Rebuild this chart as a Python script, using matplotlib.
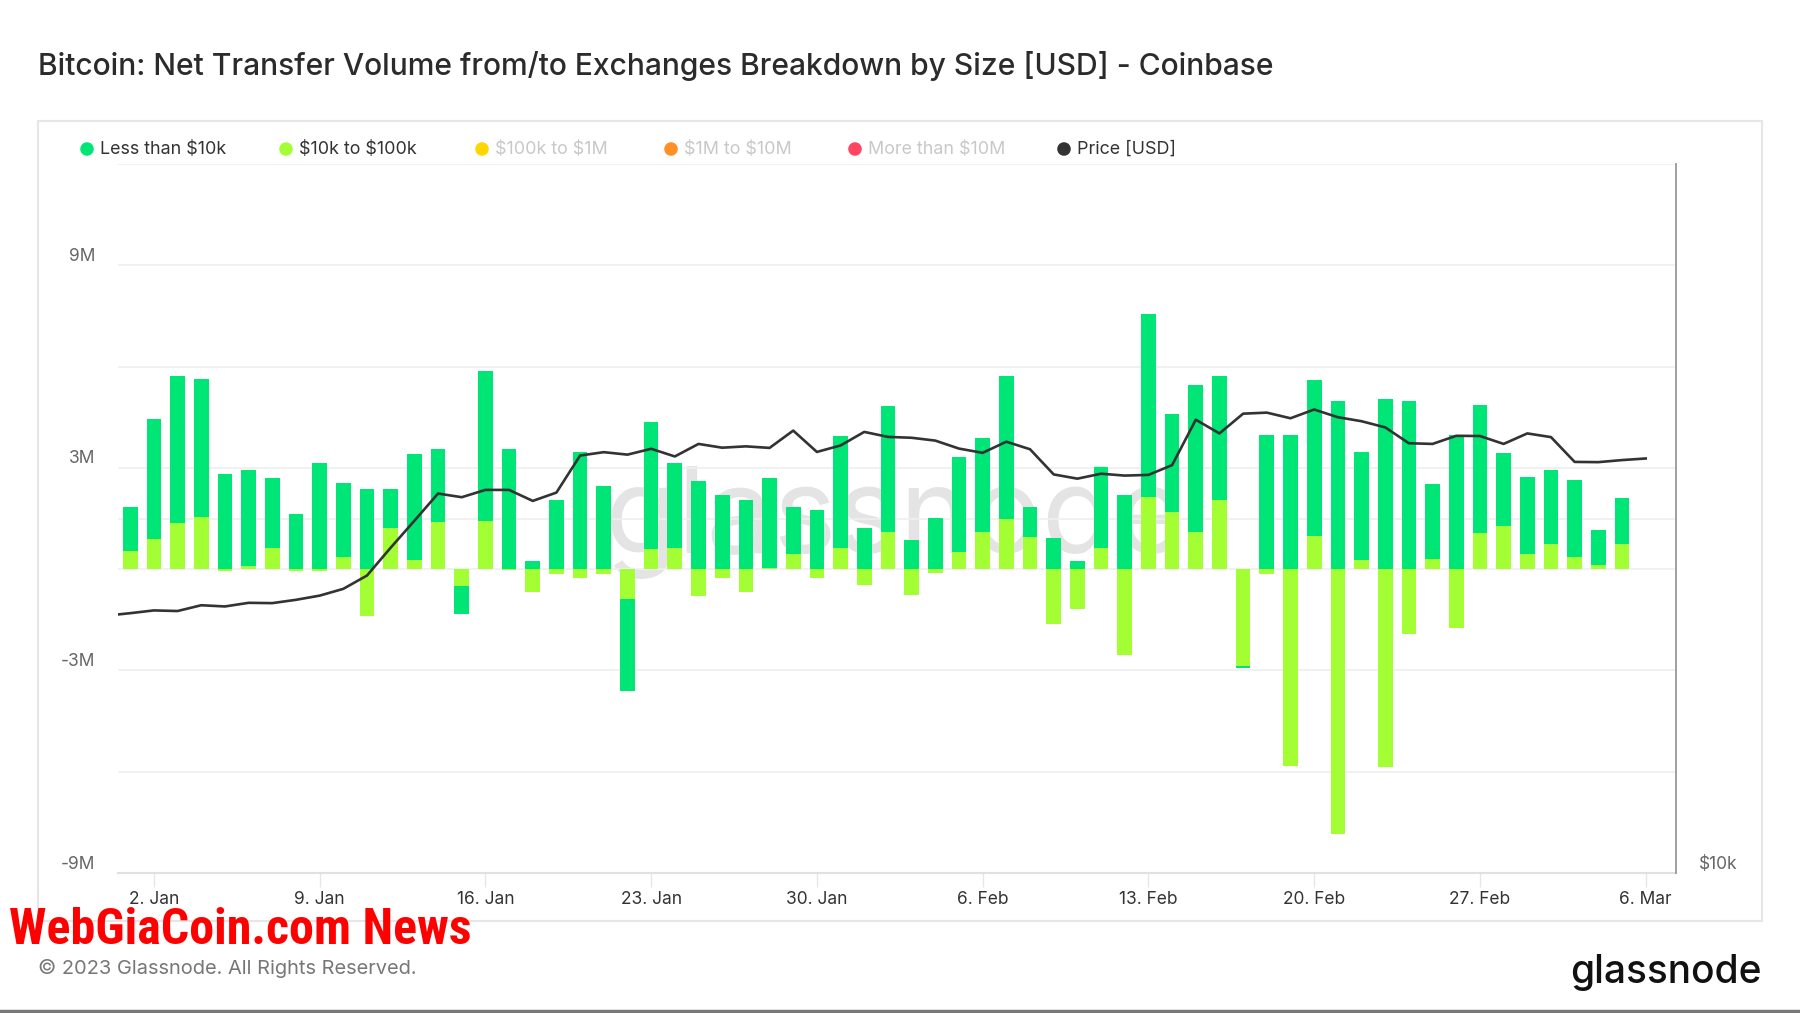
import matplotlib
matplotlib.use("Agg")
import matplotlib.pyplot as plt
import matplotlib.transforms as mtransforms
from matplotlib.ticker import NullLocator
from matplotlib.patches import Rectangle
from matplotlib import font_manager
import numpy as np
import pandas as pd

plt.rcParams['font.family'] = ['Inter', 'DejaVu Sans']
plt.rcParams['text.parse_math'] = False

# ---------------- datos ----------------
bar_dates = pd.date_range('2023-01-01', '2023-03-05', freq='D')

# Less than $10k  [M USD]
less_10k = [1.29, 3.58, 4.35, 4.09, 2.81, 2.87, 2.05, 1.62, 3.13, 2.21,
            2.38, 1.15, 3.14, 2.16, -0.83, 4.44, 3.57, 0.25, 2.06, 3.47,
            2.46, -2.74, 3.76, 2.49, 2.60, 2.20, 2.06, 2.67, 1.39, 1.75,
            3.29,
            1.21, 3.72, 0.87, 1.52, 2.79, 2.78, 4.22, 0.89, 0.91, 0.25,
            2.40, 2.20, 5.40, 2.92, 4.34, 3.65, -0.06, 3.97, 3.97, 4.61,
            4.98, 3.22, 5.03, 4.98, 2.22, 3.97, 3.80, 2.17,
            2.27, 2.20, 2.28, 1.04, 1.36]

# $10k to $100k  [M USD]
k10_100k = [0.55, 0.88, 1.36, 1.53, -0.06, 0.08, 0.64, -0.05, -0.05, 0.35,
            -1.39, 1.23, 0.26, 1.41, -0.51, 1.44, -0.04, -0.68, -0.15, -0.25,
            -0.15, -0.87, 0.61, 0.64, -0.81, -0.25, -0.68, 0.02, 0.46, -0.25,
            0.64,
            -0.46, 1.10, -0.78, -0.10, 0.52, 1.10, 1.49, 0.96, -1.62, -1.17,
            0.64, -2.55, 2.15, 1.68, 1.10, 2.06, -2.88, -0.15, -5.82, 0.99,
            -7.85, 0.26, -5.85, -1.91, 0.29, -1.74, 1.06, 1.27,
            0.45, 0.75, 0.35, 0.12, 0.75]

price_dates = pd.date_range('2022-12-31', '2023-03-06', freq='D')
price = [16540,
         16620, 16710, 16690, 16880, 16840, 16960, 16950, 17060, 17200, 17430,
         17890, 18890, 19910, 21000, 20850, 21150, 21150, 20700, 21040, 22620,
         22770, 22660, 22920, 22580, 23140, 22970, 23030, 22960, 23750, 22780,
         23070,
         23690, 23460, 23420, 23290, 22930, 22740, 23240, 22900, 21800, 21620,
         21830, 21750, 21780, 22200, 24260, 23620, 24550, 24600, 24330, 24750,
         24380, 24190, 23900, 23170, 23140, 23510, 23500, 23140,
         23620, 23450, 22340, 22330, 22420, 22490]

tick_dates = pd.date_range('2023-01-02', '2023-03-06', freq='7D')
tick_labels = ['2. Jan', '9. Jan', '16. Jan', '23. Jan', '30. Jan',
               '6. Feb', '13. Feb', '20. Feb', '27. Feb', '6. Mar']

y_labels = [9, 3, -3, -9]

legend_names = ['Less than $10k', '$10k to $100k', '$100k to $1M',
                '$1M to $10M', 'More than $10M', 'Price [USD]']
legend_colors = ['#00E676', '#A3FF33', '#FFD600', '#FF8F27', '#FF4560', '#333333']
legend_active = [True, True, False, False, False, True]

# ---------------- figura ----------------
W, H = 1800, 1013
fig = plt.figure(figsize=(W / 100, H / 100), dpi=100)
fig.patch.set_facecolor('white')

# capa de fondo en pixeles
bg = fig.add_axes([0, 0, 1, 1], zorder=0)
bg.set_xlim(0, W)
bg.set_ylim(H, 0)
bg.axis('off')

bg.add_patch(Rectangle((38, 121), 1762 - 38, 921 - 121, facecolor='white',
                       edgecolor='#e6e6e6', lw=1.5))
bg.plot([0, W], [1011, 1011], color='#777777', lw=2.5)

titulo = bg.text(38, 66, 'Bitcoin: Net Transfer Volume from/to Exchanges Breakdown by Size [USD] - Coinbase',
                 fontsize=21.5, color='#2b2b2b', ha='left', va='center', fontweight='medium')

# leyenda
leg_dot_x = [87, 286, 482, 671, 855, 1064]
for xd, name, col, act in zip(leg_dot_x, legend_names, legend_colors, legend_active):
    bg.scatter([xd], [149], s=95, color=col, edgecolors='none')
    bg.text(xd + 13, 149, name, fontsize=12.9, ha='left', va='center',
            color='#333333' if act else '#c8c8c8')

copy_txt = bg.text(38, 968, '\u00a9 2023 Glassnode. All Rights Reserved.', fontsize=14.3,
                   color='#777777', ha='left', va='center')
bg.text(1762, 983, 'glassnode', fontsize=28, color='#111111', ha='right',
        va='baseline', fontweight='medium')

# fuente condensada si existe
cond = None
for fam in ['Roboto Condensed', 'Liberation Sans Narrow', 'Open Sans Condensed', 'Roboto']:
    try:
        font_manager.findfont(font_manager.FontProperties(family=fam), fallback_to_default=False)
        cond = fam
        break
    except Exception:
        pass
if cond is None:
    cond = 'DejaVu Sans'
marca = bg.text(9, 944, 'WebGiaCoin.com News', fontsize=33, color='#ff0000', ha='left',
                va='baseline', fontweight='heavy', family=cond)

# ---------------- eje principal ----------------
left, right, top, bottom = 118, 1676, 164, 873
ax = fig.add_axes([left / W, 1 - bottom / H, (right - left) / W, (bottom - top) / H], zorder=1)
ax.set_facecolor('none')

x0 = pd.Timestamp('2023-01-01')
ax.set_xlim(x0 - pd.Timedelta(days=0.515), x0 + pd.Timedelta(days=65.28))
ax.set_ylim(-9, 12)

g = np.array(less_10k)
l = np.array(k10_100k)
g_bottom = np.where(g * l > 0, l, 0)

ax.bar(bar_dates, l, width=0.62, color='#A3FF33', edgecolor='none', zorder=2)
ax.bar(bar_dates, g, width=0.62, bottom=g_bottom, color='#00E676', edgecolor='none', zorder=2)

ax.set_yticks(np.arange(-9, 13, 3))
ax.yaxis.grid(True, color='#efefef', lw=1.2)
ax.set_axisbelow(True)

ax.set_xticks(tick_dates)
ax.set_xticklabels(tick_labels)
ax.tick_params(axis='x', length=10, width=1, color='#e6e6e6', labelsize=12.5,
               labelcolor='#333333', pad=3)

for s in ['left', 'top', 'right']:
    ax.spines[s].set_visible(False)
ax.spines['bottom'].set_color('#e0e0e0')
ax.spines['bottom'].set_linewidth(1.5)

lab_trans = mtransforms.offset_copy(
    mtransforms.blended_transform_factory(ax.transAxes, ax.transData),
    fig=fig, x=0, y=9, units='dots')
for v in y_labels:
    ax.text(-0.0148, v, f'{v}M', transform=lab_trans, ha='right', va='center',
            fontsize=12.5, color='#666666')

ax.text(0.499, 0.495, 'glassnode', transform=ax.transAxes, fontsize=86,
        color='#e4e4e4', ha='center', va='center', zorder=0)

# ---------------- eje de precio (log) ----------------
ax2 = ax.twinx()
ax2.set_yscale('log')
ax2.set_ylim(10000, 40000)
ax2.yaxis.set_major_locator(NullLocator())
ax2.yaxis.set_minor_locator(NullLocator())
for s in ['left', 'top', 'bottom']:
    ax2.spines[s].set_visible(False)
ax2.spines['right'].set_color('#999999')
ax2.spines['right'].set_linewidth(1.3)

# twinx vuelve a activar los ticks de la izquierda
ax.tick_params(axis='y', left=False, right=False, labelleft=False, labelright=False)

grid20 = mtransforms.blended_transform_factory(ax.transAxes, ax2.transData)
ax.plot([0, 1], [20000, 20000], transform=grid20, color='#efefef', lw=1.2, zorder=1)

ax2.plot(price_dates, price, color='#333333', lw=1.9, zorder=3, clip_on=True)

p_trans = mtransforms.offset_copy(
    mtransforms.blended_transform_factory(ax2.transAxes, ax2.transData),
    fig=fig, x=0, y=9, units='dots')
ax2.text(1.0148, 10000, '$10k', transform=p_trans, ha='left', va='center',
         fontsize=12.5, color='#666666')

# ajustar anchos de textos al original
fig.canvas.draw()
r = fig.canvas.get_renderer()
for t, target in [(marca, 463), (titulo, 1236), (copy_txt, 379)]:
    bw = t.get_window_extent(r).width
    t.set_fontsize(t.get_fontsize() * target / bw)

fig.savefig('out.png', dpi=100)
